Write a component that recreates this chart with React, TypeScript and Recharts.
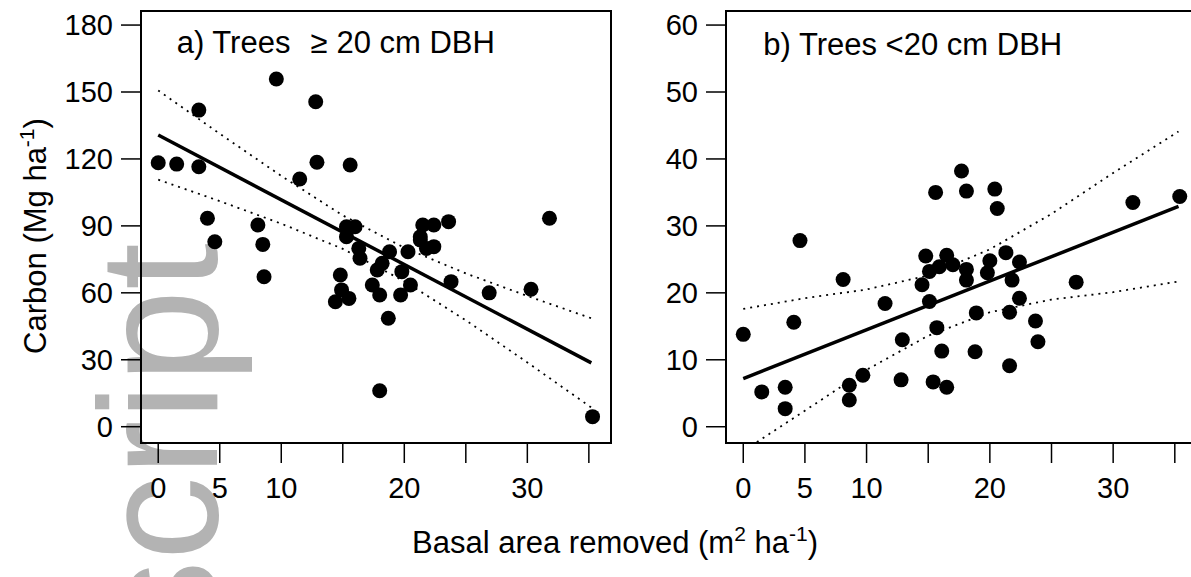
import React from 'react'
import { ScatterChart, Scatter, XAxis, YAxis, ReferenceArea } from 'recharts'

const FONT = '"Liberation Sans", Arial, Helvetica, sans-serif'

// basal area removed (m2/ha) vs carbon (Mg/ha), trees >= 20 cm DBH
const bigX = [0, 1.5, 3.3, 3.3, 4.0, 4.6, 8.1, 8.5, 8.6, 9.6, 11.5, 12.8, 12.9, 15.6, 15.3, 16.0, 15.3, 16.3, 16.4, 18.8, 18.2, 17.8, 17.4, 18.0, 14.8, 14.9, 15.5, 14.4, 18.7, 18.0, 19.8, 20.5, 19.7, 20.3, 21.5, 22.4, 23.6, 21.3, 21.3, 22.4, 21.8, 23.8, 26.9, 30.3, 31.8, 35.3]
const bigY = [118.3, 117.7, 141.9, 116.5, 93.4, 82.9, 90.4, 81.7, 67.2, 155.8, 111, 145.6, 118.5, 117.3, 89.6, 89.6, 85.1, 79.9, 75.5, 78.4, 73.2, 70.2, 63.5, 59.0, 68.0, 61.3, 57.5, 56.0, 48.6, 16.1, 69.5, 63.5, 59.0, 78.4, 90.4, 90.4, 91.9, 85.1, 83.7, 80.7, 79.9, 65.0, 60.0, 61.6, 93.4, 4.5]

// trees < 20 cm DBH
const smallX = [0, 1.5, 3.4, 3.4, 4.1, 4.6, 8.1, 8.6, 8.6, 9.7, 11.5, 12.9, 12.8, 14.5, 14.8, 15.1, 15.1, 16.5, 15.9, 17.0, 18.1, 18.1, 15.7, 16.1, 15.4, 16.5, 18.9, 18.8, 20.0, 19.8, 21.3, 22.4, 21.8, 22.4, 21.6, 23.7, 23.9, 21.6, 27.0, 17.7, 15.6, 18.1, 20.4, 20.6, 31.6, 35.4]
const smallY = [13.8, 5.2, 5.9, 2.7, 15.6, 27.8, 22.0, 6.2, 4.0, 7.7, 18.4, 13.0, 7.0, 21.2, 25.5, 18.7, 23.2, 25.6, 23.9, 24.2, 23.5, 21.9, 14.8, 11.3, 6.7, 5.9, 17.0, 11.2, 24.8, 23.0, 26.0, 24.6, 21.9, 19.2, 17.1, 15.8, 12.7, 9.1, 21.6, 38.2, 35.0, 35.2, 35.5, 32.6, 33.5, 34.4]

// fitted lines and 95% confidence bands
const bigFitX = [0, 35.2]
const bigFitY = [130.7, 28.6]
const bigBandX = [0, 5, 10, 15, 20, 25, 30, 35.2]
const bigUpper = [150.7, 131.3, 112.4, 94.7, 80.2, 68.7, 58.6, 48.6]
const bigLower = [110.7, 101.1, 91.0, 79.7, 65.2, 47.7, 28.8, 8.6]

const smallFitX = [0, 35.3]
const smallFitY = [7.2, 32.9]
const smallUpperX = [0, 5, 10, 15, 20, 25, 30, 35.3]
const smallUpper = [17.6, 19.2, 20.5, 22.6, 26.5, 31.8, 37.9, 44.1]
const smallLowerX = [1.1, 5, 10, 15, 20, 25, 30, 35.3]
const smallLower = [-2.3, 2.4, 8.5, 13.6, 17.1, 19.0, 20.1, 21.7]

const xTicks = [0, 5, 10, 15, 20, 25, 30, 35]
const xTickLabels = [0, 5, 10, 20, 30]
const bigYTicks = [0, 30, 60, 90, 120, 150, 180]
const smallYTicks = [0, 10, 20, 30, 40, 50, 60]

const zip = (xs: number[], ys: number[]) => xs.map((x, i) => ({ x, y: ys[i] }))

const Dot = (p: any) => <circle cx={p.cx} cy={p.cy} r={7.5} fill="#000" />
const NoDot = () => <g />

const X_DOMAIN: [number, number] = [-1.4, 36.8]

interface PanelProps {
  left: number
  width: number
  yAxisWidth: number
  marginRight: number
  yDomain: [number, number]
  yTicks: number[]
  points: { x: number; y: number }[]
  fit: { x: number; y: number }[]
  upper: { x: number; y: number }[]
  lower: { x: number; y: number }[]
}

function Panel(props: PanelProps) {
  const tickStyle = { fill: '#000', fontSize: 29, fontFamily: FONT }
  return (
    <div style={{ position: 'absolute', left: props.left, top: 0 }}>
      <ScatterChart
        width={props.width}
        height={577}
        margin={{ top: 11, right: props.marginRight, bottom: 74, left: 0 }}
      >
        <XAxis
          type="number"
          dataKey="x"
          domain={X_DOMAIN}
          allowDataOverflow
          ticks={xTicks}
          interval={0}
          tickFormatter={(v: number) => (xTickLabels.includes(v) ? String(v) : '')}
          axisLine={false}
          tickLine={{ stroke: '#000', strokeWidth: 1.5 }}
          tickSize={20}
          tickMargin={14}
          tick={tickStyle}
          height={60}
        />
        <YAxis
          type="number"
          dataKey="y"
          domain={props.yDomain}
          allowDataOverflow
          ticks={props.yTicks}
          interval={0}
          axisLine={false}
          tickLine={{ stroke: '#000', strokeWidth: 1.5 }}
          tickSize={20}
          tickMargin={8}
          tick={tickStyle}
          width={props.yAxisWidth}
        />
        <ReferenceArea
          x1={X_DOMAIN[0]}
          x2={X_DOMAIN[1]}
          y1={props.yDomain[0]}
          y2={props.yDomain[1]}
          fill="none"
          stroke="#000"
          strokeWidth={2}
          ifOverflow="visible"
        />
        <Scatter
          data={props.upper}
          shape={NoDot}
          line={{ stroke: '#000', strokeWidth: 1.8, strokeDasharray: '2 5' }}
          isAnimationActive={false}
        />
        <Scatter
          data={props.lower}
          shape={NoDot}
          line={{ stroke: '#000', strokeWidth: 1.8, strokeDasharray: '2 5' }}
          isAnimationActive={false}
        />
        <Scatter
          data={props.fit}
          shape={NoDot}
          line={{ stroke: '#000', strokeWidth: 3.5 }}
          isAnimationActive={false}
        />
        <Scatter data={props.points} shape={Dot} isAnimationActive={false} />
      </ScatterChart>
    </div>
  )
}

export default function App() {
  return (
    <div
      style={{
        position: 'absolute',
        left: 0,
        top: 0,
        width: 1191,
        height: 577,
        overflow: 'hidden',
        background: '#fff',
        fontFamily: FONT,
      }}
    >
      {/* watermark behind the plots */}
      <svg width={1191} height={577} style={{ position: 'absolute', left: 0, top: 0 }}>
        <text
          x={217}
          y={243}
          fontSize={168}
          fontFamily={FONT}
          fill="#b3b3b3"
          textAnchor="end"
          transform="rotate(-90, 217, 243)"
        >
          Manuscript
        </text>
      </svg>

      <Panel
        left={0}
        width={620}
        yAxisWidth={141}
        marginRight={9}
        yDomain={[-7.3, 186.3]}
        yTicks={bigYTicks}
        points={zip(bigX, bigY)}
        fit={zip(bigFitX, bigFitY)}
        upper={zip(bigBandX, bigUpper)}
        lower={zip(bigBandX, bigLower)}
      />
      <Panel
        left={620}
        width={620}
        yAxisWidth={106}
        marginRight={43}
        yDomain={[-2.43, 62.1]}
        yTicks={smallYTicks}
        points={zip(smallX, smallY)}
        fit={zip(smallFitX, smallFitY)}
        upper={zip(smallUpperX, smallUpper)}
        lower={zip(smallLowerX, smallLower)}
      />

      {/* titles and axis labels */}
      <svg
        width={1191}
        height={577}
        style={{ position: 'absolute', left: 0, top: 0, pointerEvents: 'none' }}
        fontFamily={FONT}
        fill="#000"
      >
        <text x={176.7} y={52.5} fontSize={31}>
          a) Trees<tspan dx={20}>≥</tspan>
          <tspan dx={9}>20 cm DBH</tspan>
        </text>
        <text x={763.3} y={54.5} fontSize={31}>
          b) Trees &lt;20 cm DBH
        </text>
        <text x={615} y={553} fontSize={31} textAnchor="middle">
          Basal area removed (m<tspan dy={-12} fontSize={21}>2</tspan>
          <tspan dy={12}> ha</tspan>
          <tspan dy={-12} fontSize={21}>-1</tspan>
          <tspan dy={12}>)</tspan>
        </text>
        <text x={46} y={236} fontSize={31} textAnchor="middle" transform="rotate(-90, 46, 236)">
          Carbon (Mg ha<tspan dy={-12} fontSize={21}>-1</tspan>
          <tspan dy={12}>)</tspan>
        </text>
      </svg>
    </div>
  )
}
